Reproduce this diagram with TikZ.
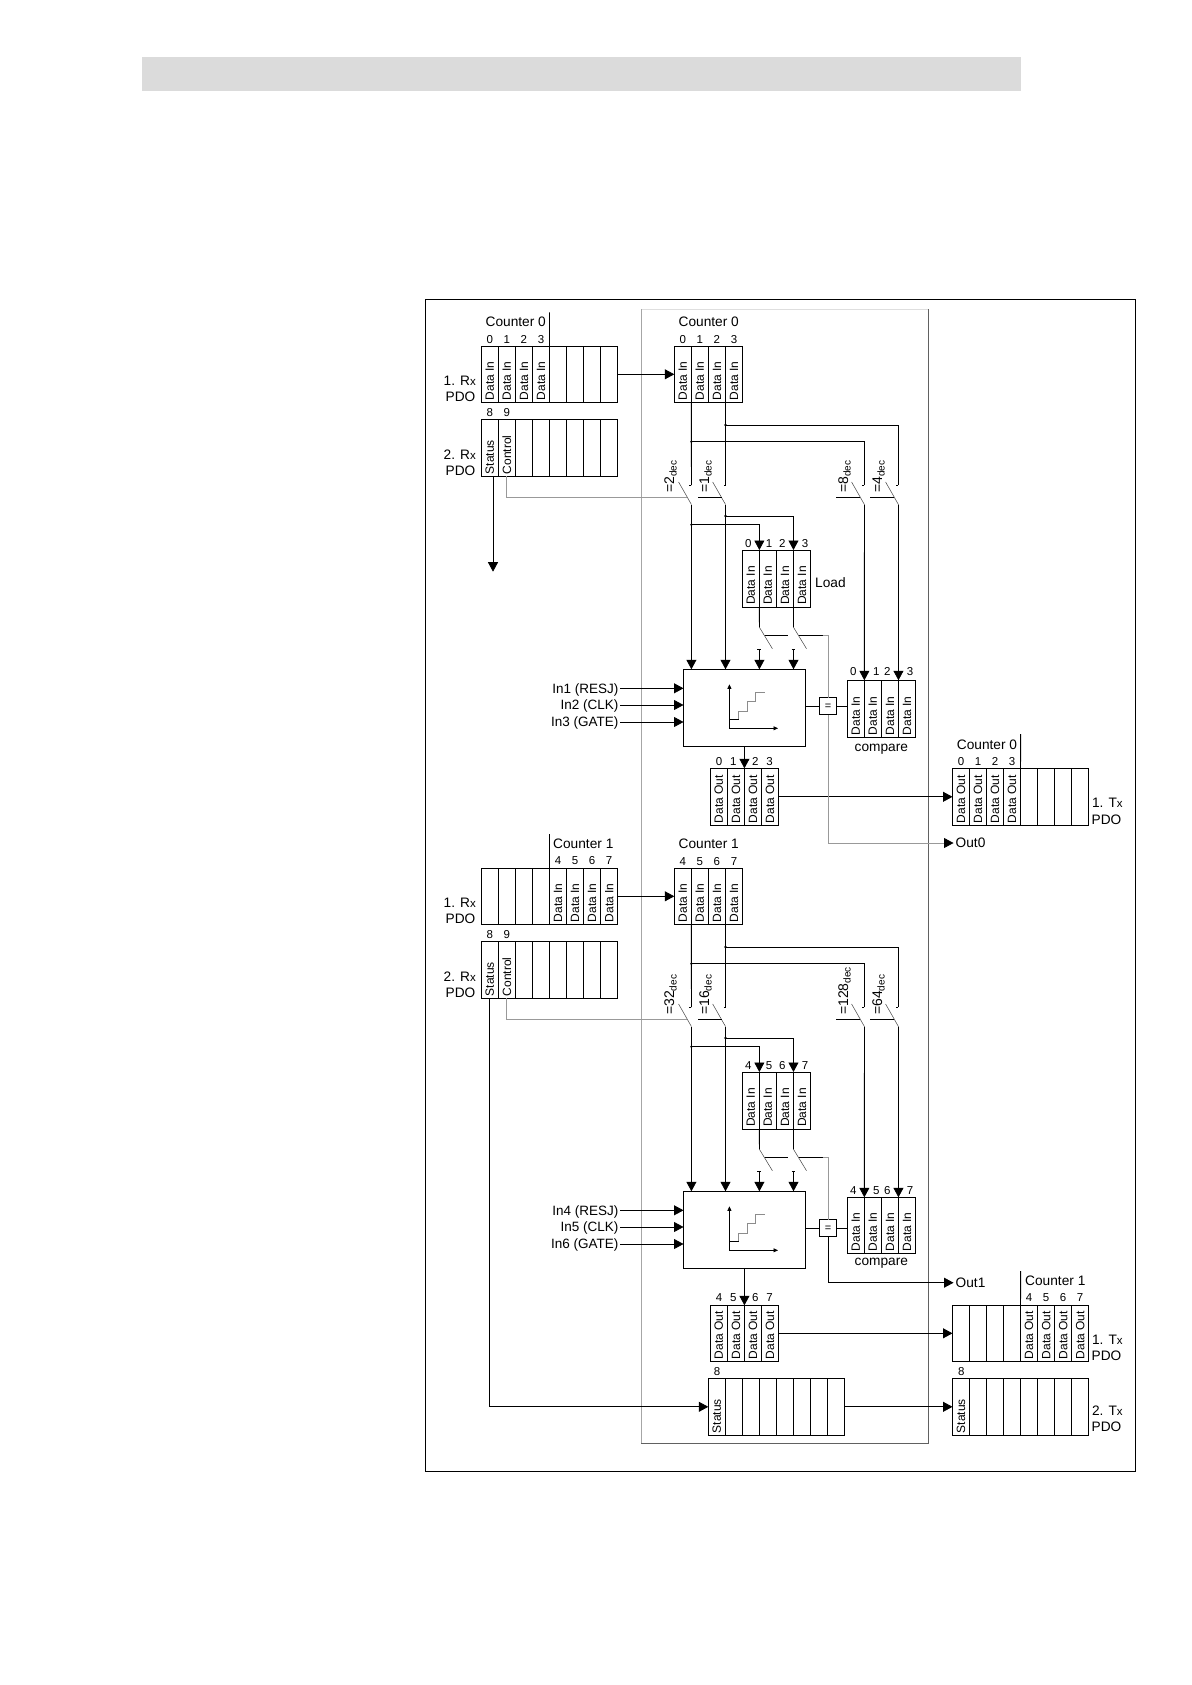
\documentclass[tikz,border=0pt]{standalone}
\usepackage{fontspec}
\setmainfont{Liberation Sans}
\usetikzlibrary{arrows.meta}

\newcommand{\celltable}[6]{%
  \foreach \txt [count=\n] in {#6} {
    \node[cellbox, minimum width=#4pt, minimum height=#5pt] (#1-\n) at ({#2+(\n-1)*#4},#3) {};
    \node[celltext] (#1-\n-text) at ([yshift=2pt]#1-\n.south) {\txt};
  }}
\newcommand{\decval}[1]{=#1\raisebox{-2.5pt}{\fontsize{10}{10}\selectfont dec}}
\newcommand{\smallx}{{\fontsize{11.5}{12}\selectfont x}}

\begin{document}
\begin{tikzpicture}[
    x=1pt, y=-1pt,
    cellbox/.style = {draw=black, line width=0.8pt, anchor=north west, inner sep=0pt, outer sep=0pt},
    celltext/.style = {rotate=90, anchor=west, inner sep=0pt, font=\fontsize{12}{12}\selectfont},
    idx/.style = {inner sep=0pt, text height=8.3pt, text depth=0pt, font=\fontsize{11.5}{12}\selectfont},
    lbl/.style = {inner sep=0pt, font=\fontsize{13.7}{14}\selectfont},
    inlabel/.style = {inner sep=1.5pt, anchor=east, text height=9.7pt, text depth=0pt, font=\fontsize{13.5}{14}\selectfont},
    declabel/.style = {rotate=90, anchor=base west, inner sep=0pt, font=\fontsize{14}{14}\selectfont},
    blockbox/.style = {draw=black, line width=0.8pt, anchor=north west, minimum width=122pt, minimum height=77pt, inner sep=0pt, outer sep=0pt},
    eqbox/.style = {draw=black, fill=white, line width=0.8pt, minimum width=17pt, minimum height=17pt, inner sep=0pt, outer sep=0pt, font=\fontsize{11}{11}\selectfont},
    junction/.style = {circle, fill=black, minimum size=2.6pt, inner sep=0pt},
    wire/.style = {line width=0.8pt, black},
    ctlwire/.style = {line width=0.8pt, black!40},
    arm/.style = {line width=0.5pt, black!75},
    flow/.style = {wire, -{Triangle[length=9.5pt, width=10pt]}},
    ctlflow/.style = {ctlwire, -{Triangle[length=9.5pt, width=10pt, black]}},
    axis/.style = {line width=0.7pt, {Triangle[length=4.5pt, width=4pt]}-{Triangle[length=4.5pt, width=4pt]}}
]

\useasboundingbox (0,0) rectangle (1191,1685);

\node[fill=black!14, minimum width=879pt, minimum height=34pt, anchor=north west, inner sep=0pt, outer sep=0pt] (band) at (142,57) {};
\node[draw=black, line width=0.9pt, minimum width=710pt, minimum height=1172pt, anchor=north west, inner sep=0pt, outer sep=0pt] (frame) at (425,299.5) {};

\node[minimum width=287pt, minimum height=1133.8pt, anchor=north west, inner sep=0pt, outer sep=0pt] (panel) at (641.3,309.5) {};
\draw[line width=1pt, black!13] (panel.north west) -- (panel.north east);
\draw[line width=1pt, black!35] (panel.north west) -- (panel.south west);
\draw[line width=1pt, black!62] (panel.south west) -- (panel.south east) -- (panel.north east);

% Rx side
\celltable{rxa0}{481.3}{346.3}{17.05}{56}{Data In,Data In,Data In,Data In,,,,}
\celltable{rxb0}{481.3}{419.3}{17.05}{57}{Status,Control,,,,,,}
\celltable{rxa1}{481.3}{868.3}{17.05}{56}{,,,,Data In,Data In,Data In,Data In}
\celltable{rxb1}{481.3}{941.3}{17.05}{57}{Status,Control,,,,,,}

\foreach \n/\dg in {1/0,2/1,3/2,4/3} \node[idx] (rxa0-\n-idx) at ([yshift=7.3pt]rxa0-\n.north) {\dg};
\foreach \n/\dg in {5/4,6/5,7/6,8/7} \node[idx] (rxa1-\n-idx) at ([yshift=7.6pt]rxa1-\n.north) {\dg};
\foreach \s in {0,1} {
    \node[idx] (rxb\s-1-idx) at ([yshift=6.8pt]rxb\s-1.north) {8};
    \node[idx] (rxb\s-2-idx) at ([yshift=6.8pt]rxb\s-2.north) {9};
}

\node[lbl] (rxa0-name) at (515.7,321.7) {Counter 0};
\node[lbl] (rxa1-name) at (583.3,843.3) {Counter 1};
\coordinate (rxa0-tick) at (549.4,312.3);
\coordinate (rxa1-tick) at (549.4,834);
\draw[wire] (rxa0-5.north west) -- (rxa0-tick);
\draw[wire] (rxa1-5.north west) -- (rxa1-tick);

\foreach \s/\dy in {0/0,1/522} {
    \node[lbl, anchor=east] (rxa\s-la) at (476,381+\dy) {1. R\smallx};
    \node[lbl, anchor=east] (rxa\s-lb) at (475.5,396.7+\dy) {PDO};
    \node[lbl, anchor=east] (rxb\s-la) at (476,454.3+\dy) {2. R\smallx};
    \node[lbl, anchor=east] (rxb\s-lb) at (475.5,470.5+\dy) {PDO};
}

% compare registers
\celltable{comp0}{847.3}{680.3}{17.05}{57}{Data In,Data In,Data In,Data In}
\celltable{comp1}{847.3}{1197.3}{17.05}{56}{Data In,Data In,Data In,Data In}
\foreach \n/\px/\dg in {1/853.4/0,2/876.3/1,3/887.4/2,4/910/3} \node[idx] (comp0-\n-idx) at (\px,671) {\dg};
\foreach \n/\px/\dg in {1/853.4/4,2/876.3/5,3/887.4/6,4/910/7} \node[idx] (comp1-\n-idx) at (\px,1190) {\dg};
\node[lbl] (comp0-name) at (881.3,749.5) {compare};
\node[lbl] (comp1-name) at (881.3,1263.5) {compare};

\foreach \s/\dy/\ia/\ib/\ic/\id/\va/\vb/\vc/\vd/\ina/\inb/\inc in {
    0/0/0/1/2/3/2/1/8/4/In1 (RESJ)/In2 (CLK)/In3 (GATE),
    1/522/4/5/6/7/32/16/128/64/In4 (RESJ)/In5 (CLK)/In6 (GATE)} {

    \celltable{cnt\s}{674.3}{346.3+\dy}{17.05}{56}{Data In,Data In,Data In,Data In}
    \node[lbl] (cnt\s-name) at (708.7,321.7+\dy) {Counter \s};
    \foreach \n/\dg in {1/\ia,2/\ib,3/\ic,4/\id} \node[idx] (cnt\s-\n-idx) at ([yshift=7.3pt]cnt\s-\n.north) {\dg};

    \celltable{load\s}{742.3}{550+\dy}{17.05}{57}{Data In,Data In,Data In,Data In}
    \foreach \n/\px/\dg in {1/748.3/\ia,2/769/\ib,3/782.3/\ic,4/805/\id} \node[idx] (load\s-\n-idx) at (\px,543.3+\dy) {\dg};

    \node[blockbox] (blk\s) at (683.5,669.3+\dy) {};
    \node[eqbox] (eq\s) at (828,706.3+\dy) {=};

    % switches
    \foreach \sw/\sx/\cl/\cr/\vx/\val in {a/691.4/686.7/686.7/674/\va, b/725.5/698.3/721.5/709/\vb, c/864.4/836/860/848/\vc, d/898.4/870/894/882/\vd} {
        \coordinate (sw\sw\s-top) at (\sx,485+\dy);
        \coordinate (sw\sw\s-low) at (\sx,504.5+\dy);
        \coordinate (sw\sw\s-arm) at (\sx-12.8,482+\dy);
        \coordinate (ctl\sw\s-l) at (\cl,497+\dy);
        \coordinate (ctl\sw\s-r) at (\cr,497+\dy);
        \draw[arm] (sw\sw\s-arm) -- (sw\sw\s-low);
        \draw[wire] (sw\sw\s-top) -- ++(-2,0);
        \node[declabel] (val\sw\s) at (\vx,493+\dy) {\decval{\val}};
    }
    \foreach \sw in {b,c,d} \draw[wire] (ctl\sw\s-l) -- (ctl\sw\s-r);
    \draw[ctlwire] (rxb\s-2.south) |- (ctla\s-r);

    \node[junction] (j\s-c) at (691.4,441.7+\dy) {};
    \node[junction] (j\s-d) at (725.5,425+\dy) {};
    \node[junction] (j\s-e) at (691.4,524.7+\dy) {};
    \node[junction] (j\s-f) at (725.5,516+\dy) {};

    \draw[wire] (cnt\s-1.south east) -- (swa\s-top);
    \draw[wire] (cnt\s-3.south east) -- (swb\s-top);
    \draw[wire] (j\s-c.center) -| (swc\s-top);
    \draw[wire] (j\s-d.center) -| (swd\s-top);
    \draw[flow] (swa\s-low) -- (swa\s-low |- blk\s.north);
    \draw[flow] (swb\s-low) -- (swb\s-low |- blk\s.north);
    \draw[flow] (swc\s-low) -- (comp\s-1.north east);
    \draw[flow] (swd\s-low) -- (comp\s-3.north east);
    \draw[flow] (j\s-e.center) -| (load\s-2.north west);
    \draw[flow] (j\s-f.center) -| (load\s-4.north west);

    % load switches
    \foreach \sw/\cn/\sx in {e/2/759.4,f/4/793.5} {
        \coordinate (sw\sw\s-top) at (\sx,627.3+\dy);
        \coordinate (sw\sw\s-arm) at (\sx+13,648.7+\dy);
        \coordinate (sw\sw\s-stub) at (\sx,649.3+\dy);
        \draw[wire] (load\s-\cn.south west) -- (sw\sw\s-top);
        \draw[arm] (sw\sw\s-top) -- (sw\sw\s-arm);
        \draw[wire] ([xshift=-2pt]sw\sw\s-stub) -- ([xshift=1.5pt]sw\sw\s-stub);
        \draw[flow] (sw\sw\s-stub) -- (sw\sw\s-stub |- blk\s.north);
    }
    \coordinate (lda\s-l) at (765,635.3+\dy);
    \coordinate (lda\s-r) at (787.7,635.3+\dy);
    \coordinate (ldb\s-l) at (799.3,635.3+\dy);
    \coordinate (ldb\s-r) at (822.7,635.3+\dy);
    \draw[wire] (lda\s-l) -- (lda\s-r);
    \draw[wire] (ldb\s-l) -- (ldb\s-r);
    \draw[ctlwire] (ldb\s-r) -| (eq\s.north);

    \draw[wire] (eq\s.west -| blk\s.east) -- (eq\s.west);
    \draw[wire] (eq\s.east) -- (eq\s.east -| comp\s-1.west);

    % inputs
    \foreach \n/\py/\txt in {a/688.3/\ina,b/705/\inb,c/722/\inc} {
        \node[inlabel] (in\s\n) at (620,\py+\dy) {\txt};
        \draw[flow] (in\s\n.east) -- (in\s\n.east -| blk\s.west);
    }

    % small staircase
    \coordinate (chart\s-t) at (729.4,684.3+\dy);
    \coordinate (chart\s-o) at (729.4,728.3+\dy);
    \coordinate (chart\s-r) at (778,728.3+\dy);
    \draw[axis] (chart\s-t) -- (chart\s-o) -- (chart\s-r);
    \draw[line width=0.8pt] (729.4,719.3+\dy) -- (738.6,719.3+\dy);
    \draw[line width=0.9pt, black!45] (738.6,719.3+\dy) |- (747,711+\dy) |- (755.8,701.7+\dy) |- (764.6,692.7+\dy);
}
\node[lbl, anchor=west] (load0-name) at (815,582.3) {Load};

% Data Out registers
\celltable{out0}{710.3}{768.3}{17.05}{57}{Data Out,Data Out,Data Out,Data Out}
\celltable{out1}{710.3}{1305.3}{17.05}{56}{Data Out,Data Out,Data Out,Data Out}
\foreach \n/\px/\dg in {1/719/0,2/733.2/1,3/755.4/2,4/769.6/3} \node[idx] (out0-\n-idx) at (\px,761.7) {\dg};
\foreach \n/\px/\dg in {1/719/4,2/733.2/5,3/755.4/6,4/769.6/7} \node[idx] (out1-\n-idx) at (\px,1297.7) {\dg};
\draw[flow] (blk0.south) -- (out0-3.north west);
\draw[flow] (blk1.south) -- (out1-3.north west);

% Tx side
\celltable{txa0}{952.5}{768.3}{17.02}{57}{Data Out,Data Out,Data Out,Data Out,,,,}
\celltable{txa1}{952.5}{1305.3}{17.02}{56}{,,,,Data Out,Data Out,Data Out,Data Out}
\celltable{txb1}{952.5}{1378.3}{17.02}{57}{Status,,,,,,,}
\celltable{stat1}{708.3}{1378.3}{17.04}{57}{Status,,,,,,,}
\foreach \n/\dg in {1/0,2/1,3/2,4/3} \node[idx] (txa0-\n-idx) at ([yshift=6.6pt]txa0-\n.north) {\dg};
\foreach \n/\dg in {5/4,6/5,7/6,8/7} \node[idx] (txa1-\n-idx) at ([yshift=7.6pt]txa1-\n.north) {\dg};
\node[idx] (txb1-1-idx) at (961.3,1371) {8};
\node[idx] (stat1-1-idx) at (717.1,1371) {8};
\node[lbl] (txa0-name) at (987,744.3) {Counter 0};
\node[lbl] (txa1-name) at (1055.3,1280.3) {Counter 1};
\coordinate (txa0-tick) at (1020.6,734);
\coordinate (txa1-tick) at (1020.6,1271);
\draw[wire] (txa0-5.north west) -- (txa0-tick);
\draw[wire] (txa1-5.north west) -- (txa1-tick);

\foreach \nm/\py/\la/\pz in {txa0/802.5/1. T/819.7, txa1/1340/1. T/1356, txb1/1410.7/2. T/1426.5} {
    \node[lbl, anchor=west] (\nm-la) at (1091.8,\py) {\la\smallx};
    \node[lbl, anchor=west] (\nm-lb) at (1091.5,\pz) {PDO};
}

\draw[flow] (out0-4.east) -- (txa0-1.west);
\draw[flow] (out1-4.east) -- (txa1-1.west);
\draw[flow] (stat1-8.east) -- (txb1-1.west);

% digital outputs
\node[lbl, anchor=west, inner sep=2pt] (out0name) at (953.5,843) {Out0};
\node[lbl, anchor=west, inner sep=2pt] (out1name) at (953.5,1282.7) {Out1};
\draw[ctlflow] (eq0.south) |- (out0name.west);
\draw[flow] (eq1.south) |- (out1name.west);

% status lines
\coordinate (st0-from) at (493,476.3);
\coordinate (st0-to) at (493,571.7);
\draw[flow] (st0-from) -- (st0-to);
\draw[flow] (rxb1-1.south) |- (stat1-1.west);

\draw[flow] (rxa0-8.east) -- (cnt0-1.west);
\draw[flow] (rxa1-8.east) -- (cnt1-1.west);

\end{tikzpicture}
\end{document}
